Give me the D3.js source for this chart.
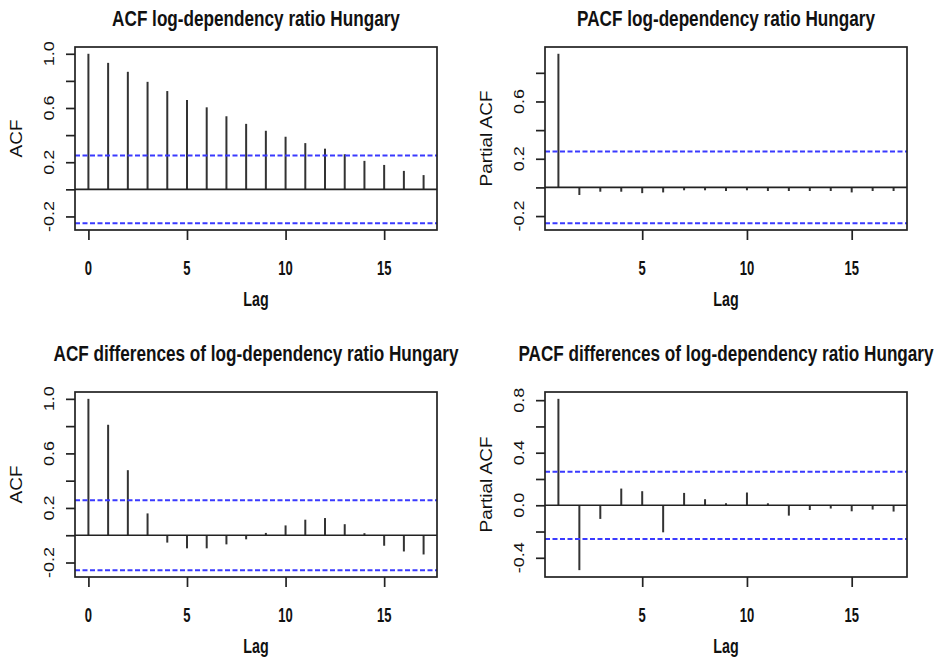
<!DOCTYPE html>
<html>
<head>
<meta charset="utf-8">
<script src="https://cdn.jsdelivr.net/npm/d3@7"></script>
<style>
  html, body { margin: 0; padding: 0; background: #fff; }
  svg { display: block; }
  text { font-family: "Liberation Sans", Arial, sans-serif; fill: #111; }
</style>
</head>
<body>
<svg id="chart" width="941" height="661"></svg>
<script>
// ---------------- DATA ----------------
const lagsFull = [0,1,2,3,4,5,6,7,8,9,10,11,12,13,14,15,16,17];
const lagsPartial = [1,2,3,4,5,6,7,8,9,10,11,12,13,14,15,16,17];

const acfLevel = [1.0, 0.933, 0.867, 0.793, 0.725, 0.659, 0.605, 0.539, 0.483, 0.432, 0.388, 0.341, 0.300, 0.259, 0.210, 0.180, 0.136, 0.105];
const pacfLevel = [0.933, -0.053, -0.030, -0.030, -0.040, -0.035, -0.020, -0.020, -0.025, -0.020, -0.025, -0.025, -0.025, -0.025, -0.035, -0.025, -0.025];
const acfDiff = [1.0, 0.810, 0.477, 0.160, -0.054, -0.096, -0.096, -0.067, -0.030, 0.017, 0.072, 0.114, 0.126, 0.081, 0.015, -0.077, -0.119, -0.141];
const pacfDiff = [0.810, -0.494, -0.104, 0.127, 0.107, -0.206, 0.094, 0.046, 0.015, 0.097, 0.015, -0.079, -0.036, -0.025, -0.046, -0.033, -0.048];

const ciLevel = 0.25;
const ciDiff = 0.256;

const titles = [
  "ACF log-dependency ratio Hungary",
  "PACF log-dependency ratio Hungary",
  "ACF differences of log-dependency ratio Hungary",
  "PACF differences of log-dependency ratio Hungary"
];
const yTitles = ["ACF", "Partial ACF", "ACF", "Partial ACF"];
const xTitle = "Lag";

const xTicksFull = [0, 5, 10, 15];
const xTicksPartial = [5, 10, 15];

const yTicks1 = [-0.2, 0, 0.2, 0.4, 0.6, 0.8, 1.0];
const yLabels1 = ["-0.2", "0.2", "0.6", "1.0"];
const yTicks2 = [-0.2, 0, 0.2, 0.4, 0.6, 0.8];
const yLabels2 = ["-0.2", "0.2", "0.6"];
const yTicks3 = [-0.2, 0, 0.2, 0.4, 0.6, 0.8, 1.0];
const yLabels3 = ["-0.2", "0.2", "0.6", "1.0"];
const yTicks4 = [-0.4, -0.2, 0, 0.2, 0.4, 0.6, 0.8];
const yLabels4 = ["-0.4", "0.0", "0.4", "0.8"];

// ---------------- LAYOUT ----------------
const svg = d3.select("#chart");
const cols = [{x0: 75, x1: 437}, {x0: 545, x1: 907}];
const rows = [{y0: 47, y1: 230, titleY: 26}, {y0: 392, y1: 577, titleY: 361}];

const panels = [
  {col: 0, row: 0, lags: lagsFull, vals: acfLevel, ci: ciLevel, title: titles[0], yTitle: yTitles[0], xTicks: xTicksFull, yTicks: yTicks1, yLabels: yLabels1},
  {col: 1, row: 0, lags: lagsPartial, vals: pacfLevel, ci: ciLevel, title: titles[1], yTitle: yTitles[1], xTicks: xTicksPartial, yTicks: yTicks2, yLabels: yLabels2},
  {col: 0, row: 1, lags: lagsFull, vals: acfDiff, ci: ciDiff, title: titles[2], yTitle: yTitles[2], xTicks: xTicksFull, yTicks: yTicks3, yLabels: yLabels3},
  {col: 1, row: 1, lags: lagsPartial, vals: pacfDiff, ci: ciDiff, title: titles[3], yTitle: yTitles[3], xTicks: xTicksPartial, yTicks: yTicks4, yLabels: yLabels4}
];

function extend(lo, hi) {
  const d = (hi - lo) * 0.04;
  return [lo - d, hi + d];
}

panels.forEach(p => {
  const c = cols[p.col], r = rows[p.row];
  const xDom = extend(d3.min(p.lags), d3.max(p.lags));
  const yDom = extend(Math.min(-p.ci, d3.min(p.vals)), Math.max(p.ci, d3.max(p.vals)));
  const x = d3.scaleLinear().domain(xDom).range([c.x0, c.x1]);
  const y = d3.scaleLinear().domain(yDom).range([r.y1, r.y0]);
  const g = svg.append("g");
  const cx = (c.x0 + c.x1) / 2;

  // title
  g.append("text")
    .attr("transform", `translate(${cx},${r.titleY}) scale(0.78,1)`)
    .attr("text-anchor", "middle")
    .attr("font-weight", "bold")
    .attr("font-size", 22)
    .text(p.title);

  // stems
  g.selectAll("line.stem").data(p.lags).enter().append("line")
    .attr("x1", d => x(d)).attr("x2", d => x(d))
    .attr("y1", y(0)).attr("y2", (d, i) => y(p.vals[i]))
    .attr("stroke", "#333").attr("stroke-width", 2);

  // zero line
  g.append("line")
    .attr("x1", c.x0).attr("x2", c.x1)
    .attr("y1", y(0)).attr("y2", y(0))
    .attr("stroke", "#222").attr("stroke-width", 1.7);

  // confidence lines
  [p.ci, -p.ci].forEach(v => {
    g.append("line")
      .attr("x1", c.x0).attr("x2", c.x1)
      .attr("y1", y(v)).attr("y2", y(v))
      .attr("stroke", "#3a3aff").attr("stroke-width", 2)
      .attr("stroke-dasharray", "5,2.5");
  });

  // box
  g.append("rect")
    .attr("x", c.x0).attr("y", r.y0)
    .attr("width", c.x1 - c.x0).attr("height", r.y1 - r.y0)
    .attr("fill", "none").attr("stroke", "#222").attr("stroke-width", 1.7);

  // x axis ticks
  const xAxis = d3.axisBottom(x).tickValues(p.xTicks).tickSize(10).tickFormat("");
  const xg = g.append("g").attr("transform", `translate(0,${r.y1})`).call(xAxis);
  xg.select(".domain").remove();
  xg.selectAll(".tick line").attr("stroke", "#222").attr("stroke-width", 1.7);
  g.selectAll("text.xt").data(p.xTicks).enter().append("text")
    .attr("transform", d => `translate(${x(d)},${r.y1 + 45}) scale(0.62,1)`)
    .attr("text-anchor", "middle")
    .attr("font-weight", "bold")
    .attr("font-size", 21)
    .text(d => d);

  // y axis ticks
  const yAxis = d3.axisLeft(y).tickValues(p.yTicks).tickSize(9).tickFormat("");
  const yg = g.append("g").attr("transform", `translate(${c.x0},0)`).call(yAxis);
  yg.select(".domain").remove();
  yg.selectAll(".tick line").attr("stroke", "#222").attr("stroke-width", 1.7);
  g.selectAll("text.yt").data(p.yLabels).enter().append("text")
    .attr("transform", d => `translate(${c.x0 - 21},${y(+d)}) scale(0.85,1) rotate(-90)`)
    .attr("text-anchor", "middle")
    .attr("font-size", 18)
    .text(d => d);

  // axis titles
  g.append("text")
    .attr("transform", `translate(${cx},${r.y1 + 76}) scale(0.68,1)`)
    .attr("text-anchor", "middle")
    .attr("font-weight", "bold")
    .attr("font-size", 21)
    .text(xTitle);
  g.append("text")
    .attr("transform", `translate(${c.x0 - 53},${(r.y0 + r.y1) / 2}) scale(0.88,1) rotate(-90)`)
    .attr("text-anchor", "middle")
    .attr("font-size", 19)
    .text(p.yTitle);
});
</script>
</body>
</html>
